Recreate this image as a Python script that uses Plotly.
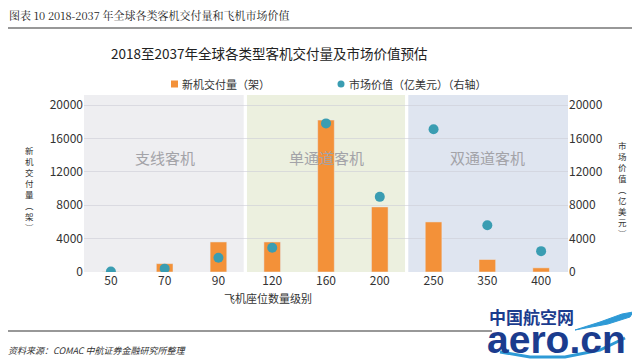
import plotly.graph_objects as go

categories = ["50", "70", "90", "120", "160", "200", "250", "350", "400"]
deliveries = [30, 1000, 3600, 3600, 18200, 7800, 6000, 1500, 500]
market_value = [50, 400, 1700, 2900, 17800, 9000, 17100, 5600, 2500]
tick_vals = [0, 4000, 8000, 12000, 16000, 20000]
tick_text = ["0", "4000", "8000", "12000", "16000", "20000"]
regions = ["支线客机", "单通道客机", "双通道客机"]
series_names = ["新机交付量（架）", "市场价值（亿美元）（右轴）"]

W, H = 640, 362
OFF = 8  # page body margin
# plot area in reference pixels: x 84..568, y 95..272
PX0, PX1, PY0, PY1 = 84, 568, 95, 272
L, T = PX0 - OFF, PY0 - OFF
R, B = W - (PX1 - OFF), H - (PY1 - OFF)
PW, PH = PX1 - PX0, PY1 - PY0
YMAX = 21200

def px(x):
    return (x - PX0) / PW

def py(y):
    return (PY1 - y) / PH

font = "Noto Sans CJK SC, Noto Sans, sans-serif"
ORANGE = "#F39139"
TEAL = "#3A9DB2"

fig = go.Figure()
fig.add_trace(go.Bar(x=categories, y=deliveries, name=series_names[0],
                     marker=dict(color=ORANGE), width=0.31, yaxis="y"))
fig.add_trace(go.Scatter(x=categories, y=market_value, name=series_names[1],
                         mode="markers", marker=dict(color=TEAL, size=10),
                         yaxis="y2"))

shapes = []
bg = [(-0.5, 2.47, "#EEEEF1"), (2.53, 5.47, "#ECF0DF"), (5.53, 8.5, "#DFE5F0")]
for x0, x1, c in bg:
    shapes.append(dict(type="rect", xref="x", yref="y", x0=x0, x1=x1, y0=0, y1=YMAX,
                       fillcolor=c, line=dict(width=0), layer="below"))
# header and footer rules
shapes.append(dict(type="line", xref="paper", yref="paper", x0=px(4), x1=px(648),
                   y0=py(28), y1=py(28), line=dict(color="#333", width=1.2)))
shapes.append(dict(type="line", xref="paper", yref="paper", x0=px(0), x1=px(492),
                   y0=py(331), y1=py(331), line=dict(color="#333", width=1.2)))
# manual legend symbols
shapes.append(dict(type="rect", xref="paper", yref="paper", x0=px(171), x1=px(178),
                   y0=py(87.5), y1=py(80.5), fillcolor=ORANGE, line=dict(width=0)))
shapes.append(dict(type="circle", xref="paper", yref="paper", x0=px(337.5), x1=px(344.5),
                   y0=py(87.5), y1=py(80.5), fillcolor=TEAL, line=dict(width=0)))
# logo swoosh
def pth(points):
    return "M " + " L ".join(f"{px(a):.4f},{py(b):.4f}" for a, b in points)
shapes.append(dict(type="path", xref="paper", yref="paper",
                   path=pth([(500, 352), (530, 357), (565, 357), (600, 350), (625, 338)]),
                   line=dict(color="#2E9AD6", width=3)))
shapes.append(dict(type="path", xref="paper", yref="paper",
                   path=pth([(575, 330), (600, 322), (622, 314), (633, 312), (630, 317), (608, 324)]) + " Z",
                   fillcolor="#2E9AD6", line=dict(color="#2E9AD6", width=1)))

annotations = []
def ann(text, x, y, size, color="#333", xanchor="center", yanchor="middle", family=font):
    annotations.append(dict(text=text, x=px(x), y=py(y), xref="paper", yref="paper",
                            showarrow=False, xanchor=xanchor, yanchor=yanchor,
                            font=dict(size=size, color=color, family=family)))

ann("图表 10 2018-2037 年全球各类客机交付量和飞机市场价值", 7, 15, 11, "#222", xanchor="left",
    family="Noto Serif CJK SC, Noto Sans CJK SC, serif")
ann("2018至2037年全球各类型客机交付量及市场价值预估", 269, 53, 13.5, "#222")
ann(series_names[0], 180, 84, 11, "#333", xanchor="left")
ann(series_names[1], 347, 84, 11, "#333", xanchor="left")
ann("飞机座位数量级别", 268, 298, 11, "#333")
ann("<i>资料来源：COMAC 中航证券金融研究所整理</i>", 6, 350, 9, "#333", xanchor="left")
left_chars = list("新机交付量") + ["︵", "架", "︶"]
ann("<br>".join(left_chars), 29, 188, 8.5, "#333")
right_chars = list("市场价值") + ["︵", "亿", "美", "元", "︶"]
ann("<br>".join(right_chars), 622, 189, 8.5, "#333")
# region labels
for r, xc in zip(regions, [165, 326, 487]):
    ann(r, xc, 157, 15, "#A3A3A8")
# logo text
ann("<b>中国航空网</b>", 487, 316, 17, "#1B3C8E", xanchor="left")
ann("<b>aero.cn</b>", 485, 339, 39, "#1B3C8E", xanchor="left",
    family="Arial, Liberation Sans, sans-serif")

fig.update_layout(
    width=W, height=H,
    margin=dict(l=L, r=R, t=T, b=B, autoexpand=False),
    paper_bgcolor="white", plot_bgcolor="white",
    font=dict(family=font, size=12, color="#333"),
    showlegend=False,
    xaxis=dict(type="category", range=[-0.5, 8.5], showgrid=False, zeroline=False,
               showline=False, ticks="", tickfont=dict(size=12, color="#333")),
    yaxis=dict(range=[0, YMAX], tickvals=tick_vals, ticktext=tick_text, showgrid=True,
               gridcolor="rgba(205,205,215,0.6)", gridwidth=1, zeroline=False,
               tickfont=dict(size=12, color="#333"), ticks="", showline=False),
    yaxis2=dict(range=[0, YMAX], tickvals=tick_vals, ticktext=tick_text, overlaying="y",
                side="right", showgrid=False, zeroline=False,
                tickfont=dict(size=12, color="#333"), ticks="", showline=False),
    shapes=shapes, annotations=annotations,
)

fig.write_html("out.html")
